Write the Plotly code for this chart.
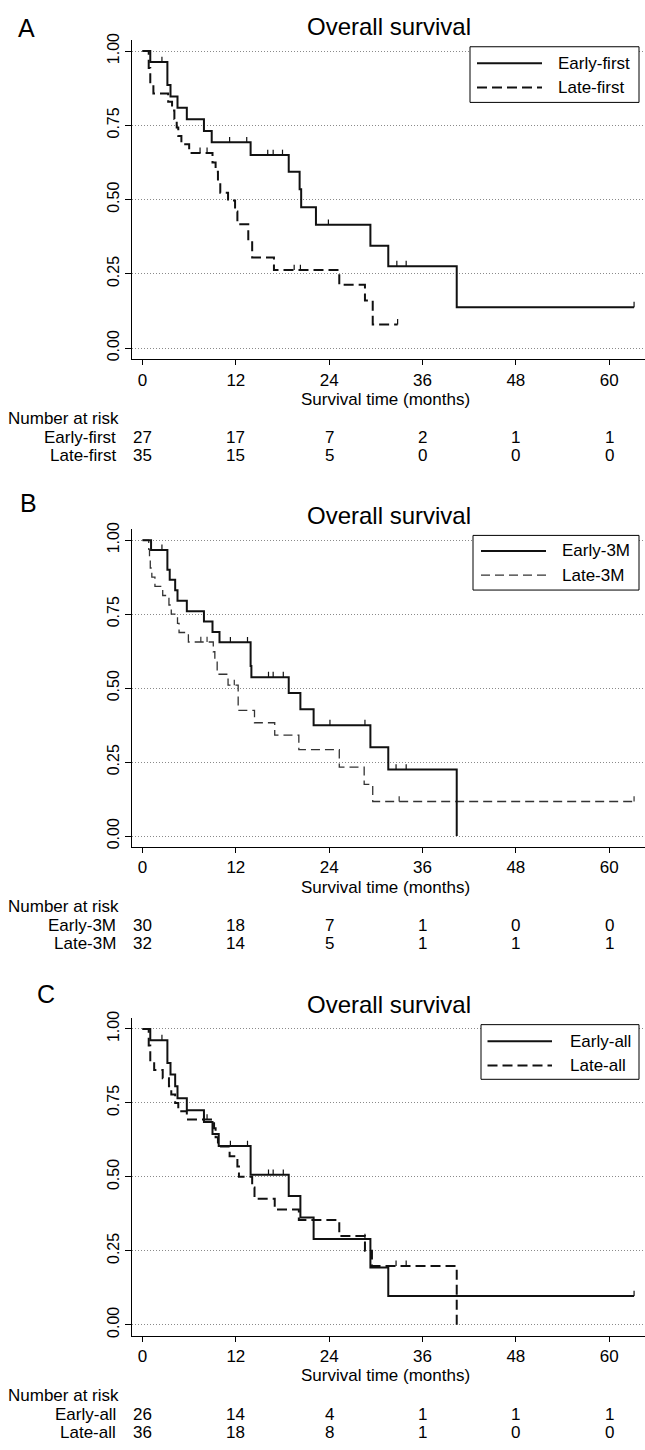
import plotly.graph_objects as go

W, H = 645, 1450

# ---------------- data ----------------
time_ticks = [0, 12, 24, 36, 48, 60]
y_ticks = [0, 0.25, 0.5, 0.75, 1.0]
y_tick_labels = ["0.00", "0.25", "0.50", "0.75", "1.00"]
panel_letters = ["A", "B", "C"]
title_text = "Overall survival"
x_title = "Survival time (months)"
risk_title = "Number at risk"

# Panel A
a_early_name = "Early-first"
a_early_t = [1.0, 3.2, 3.6, 4.5, 5.7, 7.9, 8.9, 13.9, 18.8, 20.2, 20.4, 22.3, 29.3, 31.6, 40.4]
a_early_s = [0.963, 0.886, 0.847, 0.809, 0.770, 0.731, 0.693, 0.650, 0.594, 0.535, 0.474, 0.415, 0.345, 0.276, 0.138]
a_early_cens = [2.5, 11.2, 13.4, 16.1, 16.8, 18.0, 23.9, 32.7, 33.9, 63.2]
a_early_end = 63.2
a_late_name = "Late-first"
a_late_t = [0.8, 1.0, 1.4, 3.3, 3.8, 4.1, 4.4, 4.6, 5.0, 6.0, 9.0, 9.4, 9.7, 10.0, 11.0, 11.9, 12.2, 13.6, 14.1, 16.9, 25.3, 28.6, 29.6]
a_late_s = [0.943, 0.886, 0.857, 0.829, 0.800, 0.771, 0.743, 0.714, 0.686, 0.657, 0.625, 0.594, 0.563, 0.523, 0.497, 0.460, 0.417, 0.360, 0.305, 0.263, 0.213, 0.160, 0.080]
a_late_cens = [7.4, 8.3, 19.5, 20.3, 32.8]
a_late_end = 32.8
a_early_risk = [27, 17, 7, 2, 1, 1]
a_late_risk = [35, 15, 5, 0, 0, 0]

# Panel B
b_early_name = "Early-3M"
b_early_t = [1.1, 3.2, 3.5, 4.2, 4.5, 5.7, 7.9, 9.0, 9.9, 13.9, 14.0, 18.8, 20.3, 22.0, 29.3, 31.6, 40.4]
b_early_s = [0.967, 0.900, 0.866, 0.831, 0.795, 0.760, 0.725, 0.690, 0.655, 0.575, 0.537, 0.484, 0.429, 0.375, 0.300, 0.225, 0.0]
b_early_cens = [2.5, 11.3, 13.5, 16.2, 16.8, 18.1, 24.1, 28.6, 32.6, 33.9]
b_early_end = 40.4
b_late_name = "Late-3M"
b_late_t = [0.8, 0.9, 1.0, 1.2, 1.6, 2.6, 3.4, 3.7, 4.5, 4.7, 5.9, 9.1, 9.3, 9.6, 11.0, 12.3, 14.4, 17.0, 20.1, 25.3, 28.5, 29.6]
b_late_s = [0.969, 0.938, 0.906, 0.875, 0.844, 0.813, 0.781, 0.750, 0.719, 0.688, 0.656, 0.623, 0.588, 0.547, 0.510, 0.425, 0.383, 0.341, 0.292, 0.233, 0.175, 0.117]
b_late_cens = [7.5, 8.3, 11.8, 33.0, 63.2]
b_late_end = 63.2
b_early_risk = [30, 18, 7, 1, 0, 0]
b_late_risk = [32, 14, 5, 1, 1, 1]

# Panel C
c_early_name = "Early-all"
c_early_t = [1.0, 3.2, 3.6, 4.2, 4.5, 5.7, 7.9, 9.0, 9.8, 13.9, 18.8, 20.3, 22.0, 29.3, 31.6]
c_early_s = [0.962, 0.885, 0.846, 0.806, 0.766, 0.725, 0.685, 0.645, 0.604, 0.507, 0.435, 0.363, 0.290, 0.194, 0.097]
c_early_cens = [2.5, 11.3, 13.5, 16.2, 16.8, 18.1, 28.6, 63.2]
c_early_end = 63.2
c_late_name = "Late-all"
c_late_t = [0.8, 1.0, 1.5, 2.6, 3.4, 3.7, 4.2, 4.6, 5.7, 9.2, 9.4, 9.7, 11.2, 12.2, 12.4, 14.1, 14.4, 17.0, 20.1, 25.3, 28.6, 29.5, 40.4]
c_late_s = [0.944, 0.889, 0.861, 0.833, 0.806, 0.778, 0.750, 0.722, 0.694, 0.664, 0.634, 0.603, 0.570, 0.535, 0.500, 0.464, 0.426, 0.390, 0.354, 0.300, 0.250, 0.199, 0.0]
c_late_cens = [7.9, 8.3, 32.6, 33.9]
c_late_end = 40.4
c_early_risk = [26, 14, 4, 1, 1, 1]
c_late_risk = [36, 18, 8, 1, 0, 0]

panels = [
    dict(early=(a_early_name, a_early_t, a_early_s, a_early_cens, a_early_end, a_early_risk),
         late=(a_late_name, a_late_t, a_late_s, a_late_cens, a_late_end, a_late_risk)),
    dict(early=(b_early_name, b_early_t, b_early_s, b_early_cens, b_early_end, b_early_risk),
         late=(b_late_name, b_late_t, b_late_s, b_late_cens, b_late_end, b_late_risk)),
    dict(early=(c_early_name, c_early_t, c_early_s, c_early_cens, c_early_end, c_early_risk),
         late=(c_late_name, c_late_t, c_late_s, c_late_cens, c_late_end, c_late_risk)),
]

# ---------------- geometry (pixels) ----------------
geo = [
    dict(y1=44.3, y0=343.3, letter=(26, 21), title_y=20, box=(470, 40, 639, 96),
         line_x=(477, 542), rows_y=(56.7, 81), text_x=556,
         late_dash="10px,5px", late_w=2.0, late_col="#111"),
    dict(y1=536.5, y0=834.3, letter=(28, 499), title_y=511.7, box=(473, 531.7, 639, 586.7),
         line_x=(481, 546), rows_y=(547.3, 571.7), text_x=560,
         late_dash="9px,5px", late_w=1.3, late_col="#333"),
    dict(y1=1028.3, y0=1326, letter=(46, 993), title_y=1003.3, box=(481, 1024, 639, 1079),
         line_x=(487.5, 552), rows_y=(1040.7, 1065), text_x=567.5,
         late_dash="10px,5px", late_w=2.0, late_col="#111"),
]
X_LEFT, X0, PPM = 132, 142.5, 7.778
FONT = "Arial, Liberation Sans, sans-serif"


def px(x):
    return x / W


def py(y):
    return 1 - y / H


def surv_at(t, times, surv):
    s = 1.0
    for ti, si in zip(times, surv):
        if ti <= t:
            s = si
    return s


fig = go.Figure()
layout = dict(width=W, height=H, margin=dict(l=0, r=0, t=0, b=0), autosize=False,
              paper_bgcolor="white", plot_bgcolor="white", showlegend=False,
              font=dict(family=FONT, color="black"))
annotations = []
shapes = []

for i, (p, g) in enumerate(zip(panels, geo)):
    sfx = "" if i == 0 else str(i + 1)
    xa, ya = "x" + sfx, "y" + sfx
    ppu = g["y0"] - g["y1"]
    top, bottom = g["y1"] - 11, g["y0"] + 11
    layout["xaxis" + sfx] = dict(
        domain=[px(X_LEFT), 1], range=[(X_LEFT - X0) / PPM, (W - X0) / PPM],
        anchor=ya, tickvals=time_ticks, ticks="outside", ticklen=5, tickcolor="black",
        showline=True, linecolor="black", linewidth=1, showgrid=False, zeroline=False,
        tickfont=dict(size=17, family=FONT, color="black"), ticklabelstandoff=0)
    layout["yaxis" + sfx] = dict(
        domain=[py(bottom), py(top)], range=[-11 / ppu, 1 + 11 / ppu], anchor=xa,
        tickvals=y_ticks, ticktext=y_tick_labels, tickangle=-90, ticks="outside",
        ticklen=6, tickcolor="black", showline=True, linecolor="black", linewidth=1,
        showgrid=True, gridcolor="#8a8a8a", griddash="1px,2px", gridwidth=1,
        zeroline=False, tickfont=dict(size=16, family=FONT, color="black"))

    for key in ("late", "early"):
        name, tt, ss, cens, end, risk = p[key]
        xs = [0] + list(tt) + [end]
        ys = [1.0] + list(ss) + [ss[-1]]
        if key == "early":
            line = dict(color="#111", width=2.0)
        else:
            line = dict(color=g["late_col"], width=g["late_w"], dash=g["late_dash"])
        fig.add_trace(go.Scatter(x=xs, y=ys, mode="lines", line_shape="hv", line=line,
                                 xaxis=xa, yaxis=ya, name=name, hoverinfo="skip"))
        cx, cy = [], []
        for c in cens:
            s = surv_at(c, tt, ss)
            cx += [c, c, None]
            cy += [s, s + 0.018, None]
        fig.add_trace(go.Scatter(x=cx, y=cy, mode="lines",
                                 line=dict(color=line["color"], width=1.2),
                                 xaxis=xa, yaxis=ya, hoverinfo="skip", showlegend=False))

    # panel letter and title
    annotations.append(dict(text=panel_letters[i], x=px(g["letter"][0]), y=py(g["letter"][1]),
                            xref="paper", yref="paper", showarrow=False, xanchor="center",
                            yanchor="middle", font=dict(size=25, family=FONT)))
    annotations.append(dict(text=title_text, x=px((X_LEFT + W) / 2), y=py(g["title_y"]),
                            xref="paper", yref="paper", showarrow=False, xanchor="center",
                            yanchor="middle", font=dict(size=24, family=FONT)))
    axis_y = g["y0"] + 11
    annotations.append(dict(text=x_title, x=px((X_LEFT + W) / 2 - 3), y=py(axis_y + 40.5),
                            xref="paper", yref="paper", showarrow=False, xanchor="center",
                            yanchor="middle", font=dict(size=17, family=FONT)))
    annotations.append(dict(text=risk_title, x=px(6), y=py(axis_y + 60),
                            xref="paper", yref="paper", showarrow=False, xanchor="left",
                            yanchor="middle", font=dict(size=17, family=FONT)))
    for r, key in enumerate(("early", "late")):
        name, tt, ss, cens, end, risk = p[key]
        ry = axis_y + 79 + r * 18.5
        annotations.append(dict(text=name, x=px(118), y=py(ry), xref="paper", yref="paper",
                                showarrow=False, xanchor="right", yanchor="middle",
                                font=dict(size=17, family=FONT)))
        for tv, n in zip(time_ticks, risk):
            annotations.append(dict(text=str(n), x=tv, y=py(ry), xref=xa, yref="paper",
                                    showarrow=False, xanchor="center", yanchor="middle",
                                    font=dict(size=17, family=FONT)))

    # legend (drawn manually)
    bx0, by0, bx1, by1 = g["box"]
    shapes.append(dict(type="rect", xref="paper", yref="paper", x0=px(bx0), x1=px(bx1),
                       y0=py(by1), y1=py(by0), line=dict(color="black", width=1),
                       fillcolor="white", layer="above"))
    for r, key in enumerate(("early", "late")):
        name = p[key][0]
        ly = g["rows_y"][r]
        if key == "early":
            ln = dict(color="#111", width=2.0)
        else:
            ln = dict(color=g["late_col"], width=g["late_w"], dash=g["late_dash"])
        shapes.append(dict(type="line", xref="paper", yref="paper", x0=px(g["line_x"][0]),
                           x1=px(g["line_x"][1]), y0=py(ly), y1=py(ly), line=ln, layer="above"))
        annotations.append(dict(text=name, x=px(g["text_x"]), y=py(ly), xref="paper",
                                yref="paper", showarrow=False, xanchor="left", yanchor="middle",
                                font=dict(size=17, family=FONT)))

layout["annotations"] = annotations
layout["shapes"] = shapes
fig.update_layout(**layout)
fig.write_html("out.html", config={"displayModeBar": False},
               post_script="document.body.style.margin='0';document.body.style.padding='0';"
                           "document.documentElement.style.overflow='hidden';")
